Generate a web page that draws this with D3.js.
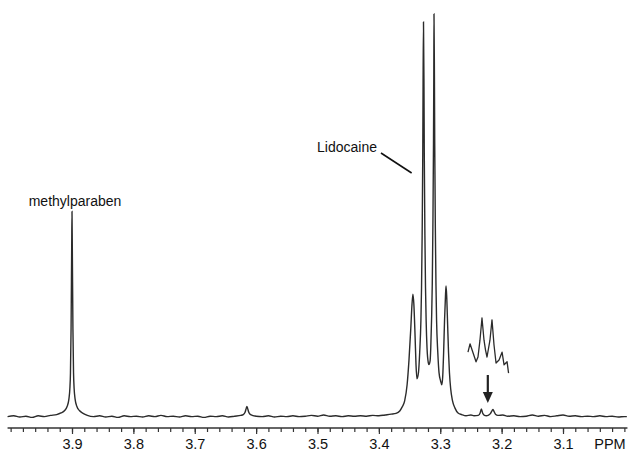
<!DOCTYPE html>
<html>
<head>
<meta charset="utf-8">
<script src="https://cdn.jsdelivr.net/npm/d3@7"></script>
<style>
  body { margin: 0; background: #fff; }
  svg { display: block; font-family: "Liberation Sans", Arial, sans-serif; }
</style>
</head>
<body>
<div id="chart"></div>
<script>
// spectrum trace: [ppm, intensity]
var spectrum = [
  [4.005,0.1],[3.995,0.3],[3.985,0],[3.975,0.2],[3.965,-0.1],[3.955,0.3],[3.945,0.1],[3.935,0.4],[3.925,0.6],[3.918,1.0],
  [3.912,1.6],[3.908,2.6],[3.905,4.5],[3.9035,7],[3.9025,11],[3.9015,22],[3.9005,42],[3.900,51],[3.8995,42],[3.8985,22],
  [3.8975,11],[3.8965,7],[3.895,4.5],[3.892,2.6],[3.888,1.6],[3.882,0.9],[3.875,0.4],
  [3.865,0.1],[3.855,0.3],[3.845,0],[3.835,0.2],[3.825,-0.1],[3.815,0.3],[3.805,0.1],[3.795,0.2],[3.785,0],[3.775,0.3],
  [3.765,0.1],[3.755,0.4],[3.745,0.1],[3.735,0.2],[3.725,0],[3.715,0.3],[3.705,0.1],[3.695,0.2],[3.685,-0.1],[3.675,0.2],
  [3.665,0.1],[3.655,0.3],[3.645,0],[3.635,0.2],[3.625,0.4],
  [3.621,0.6],[3.618,1.2],[3.616,2.2],[3.615,2.6],[3.614,2.2],[3.612,1.2],[3.609,0.6],
  [3.600,0.2],[3.590,0.1],[3.580,0.3],[3.570,0],[3.560,0.2],[3.550,0.1],[3.540,0.3],[3.530,0.1],[3.520,0.2],[3.510,0.4],
  [3.500,0.2],[3.490,0.5],[3.480,0.2],[3.470,0.3],[3.460,0.1],[3.450,0.3],[3.440,0.2],[3.430,0.3],[3.420,0.2],[3.410,0.4],
  [3.400,0.3],[3.390,0.5],[3.380,0.7],[3.372,0.9],[3.366,1.5],[3.362,2.5],[3.358,4],[3.354,8],[3.351,14],[3.348,22],
  [3.346,28],[3.3445,30.5],[3.343,28],[3.341,20],[3.3395,13],[3.338,9.5],
  [3.3355,11],[3.3335,16],[3.3315,24],[3.3305,32],[3.3295,45],[3.3285,65],[3.328,82],[3.3273,98],[3.3265,82],[3.326,65],
  [3.325,45],[3.324,32],[3.323,24],[3.3215,17],[3.3195,13.5],[3.3185,13],
  [3.3165,14],[3.3155,17],[3.314,25],[3.313,33],[3.312,47],[3.311,68],[3.3105,85],[3.3102,100],[3.3095,85],[3.309,68],
  [3.308,47],[3.307,33],[3.306,24],[3.304,16],[3.302,11],[3.2995,9],[3.2975,8],
  [3.296,10],[3.2945,16],[3.293,24],[3.2915,30],[3.2906,32.5],[3.2895,30],[3.288,23],[3.2865,16],[3.285,11],[3.283,7],
  [3.280,4],[3.276,2.2],[3.271,1],[3.265,0.6],[3.258,0.3],[3.250,0.5],[3.245,0.3],
  [3.238,0.4],[3.235,1.0],[3.233,2.0],[3.231,1.0],[3.228,0.4],[3.225,0.3],[3.222,0.4],[3.218,0.9],[3.2155,1.6],[3.214,1.9],
  [3.2125,1.4],[3.210,0.7],[3.206,0.4],
  [3.198,0.5],[3.190,0.2],[3.180,0.3],[3.170,0.1],[3.160,0.2],[3.150,0.5],[3.140,0.2],[3.130,0.4],[3.120,0.1],[3.110,0.3],
  [3.100,0.5],[3.090,0.2],[3.080,0.3],[3.070,0.1],[3.060,0.2],[3.050,0.1],[3.040,0.3],[3.030,0.1],[3.020,0.2],[3.010,0],
  [3.000,0.1],[2.996,0.1]
];

// expanded inset of the small 3.23/3.21 signals: [ppm, intensity]
var inset = [
  [3.2548,3.8],[3.2515,5.2],[3.2466,3.7],[3.2417,2.2],[3.2385,3.0],[3.2353,5.8],[3.232,9.5],[3.2287,5.8],[3.2263,4.2],
  [3.2238,3.0],[3.219,5.8],[3.2157,9.2],[3.2124,5.0],[3.2091,2.0],[3.2042,2.5],[3.1993,3.8],[3.196,1.7],[3.1911,2.2],
  [3.1887,0.3]
];

var tickLabels = ["3.9", "3.8", "3.7", "3.6", "3.5", "3.4", "3.3", "3.2", "3.1"];
var majorTicks = [3.9, 3.8, 3.7, 3.6, 3.5, 3.4, 3.3, 3.2, 3.1];
var minorTicks = d3.range(0, 51).map(function(i) { return +(4.0 - i * 0.02).toFixed(2); });

var peakLabels = [
  { text: "methylparaben", ppm: 3.90, value: 51 },
  { text: "Lidocaine", ppm: 3.345, value: 100 }
];
var arrowPpm = 3.2225;

var width = 632, height = 455;

var svg = d3.select("#chart").append("svg")
    .attr("width", width)
    .attr("height", height);

var x = d3.scaleLinear().domain([3.9, 3.1]).range([72, 563]);
var y = d3.scaleLinear().domain([0, 100]).range([417, 14]);
var yInset = d3.scaleLinear().domain([0, 10]).range([375, 315]);

var line = d3.line()
    .x(function(d) { return x(d[0]); })
    .y(function(d) { return y(d[1]); })
    .curve(d3.curveMonotoneX);

svg.append("path")
    .datum(spectrum)
    .attr("d", line)
    .attr("fill", "none")
    .attr("stroke", "#2b2b2b")
    .attr("stroke-width", 1.4);

var insetLine = d3.line()
    .x(function(d) { return x(d[0]); })
    .y(function(d) { return yInset(d[1]); })
    .curve(d3.curveLinear);

svg.append("path")
    .datum(inset)
    .attr("d", insetLine)
    .attr("fill", "none")
    .attr("stroke", "#2b2b2b")
    .attr("stroke-width", 1.3)
    .attr("stroke-linejoin", "round");

// arrow pointing at the small peaks
var ax = x(arrowPpm);
svg.append("line")
    .attr("x1", ax).attr("x2", ax)
    .attr("y1", 375).attr("y2", 394)
    .attr("stroke", "#222")
    .attr("stroke-width", 2.2);
svg.append("path")
    .attr("d", "M" + (ax - 5) + ",392 L" + (ax + 5) + ",392 L" + ax + ",403 Z")
    .attr("fill", "#222");

// x axis
var axisY = 428;
var g = svg.append("g").attr("transform", "translate(0," + axisY + ")");

g.append("line")
    .attr("x1", x(4.005)).attr("x2", x(2.995))
    .attr("stroke", "#333")
    .attr("stroke-width", 1.4);

g.append("g")
    .call(d3.axisBottom(x).tickValues(minorTicks).tickSize(4).tickFormat(""))
    .call(function(s) { s.select(".domain").remove(); })
    .selectAll("line").attr("stroke", "#333").attr("stroke-width", 1.2);

var major = g.append("g")
    .call(d3.axisBottom(x).tickValues(majorTicks).tickSize(6).tickPadding(5)
        .tickFormat(function(d, i) { return tickLabels[i]; }))
    .call(function(s) { s.select(".domain").remove(); });
major.selectAll("line").attr("stroke", "#333").attr("stroke-width", 1.2);
major.selectAll("text")
    .attr("font-family", "Liberation Sans, Arial, sans-serif")
    .attr("font-size", 14.5)
    .attr("fill", "#111");

svg.append("text")
    .attr("x", 610)
    .attr("y", 449)
    .attr("text-anchor", "middle")
    .attr("font-size", 14.5)
    .attr("fill", "#111")
    .text("PPM");

// peak annotations
svg.append("text")
    .attr("x", x(peakLabels[0].ppm) + 3)
    .attr("y", 206)
    .attr("text-anchor", "middle")
    .attr("font-size", 14)
    .attr("fill", "#111")
    .text(peakLabels[0].text);

svg.append("text")
    .attr("x", 377)
    .attr("y", 152)
    .attr("text-anchor", "end")
    .attr("font-size", 14)
    .attr("fill", "#111")
    .text(peakLabels[1].text);

svg.append("line")
    .attr("x1", 381).attr("y1", 153)
    .attr("x2", x(peakLabels[1].ppm) - 1).attr("y2", 173)
    .attr("stroke", "#111")
    .attr("stroke-width", 1.6);
</script>
</body>
</html>
